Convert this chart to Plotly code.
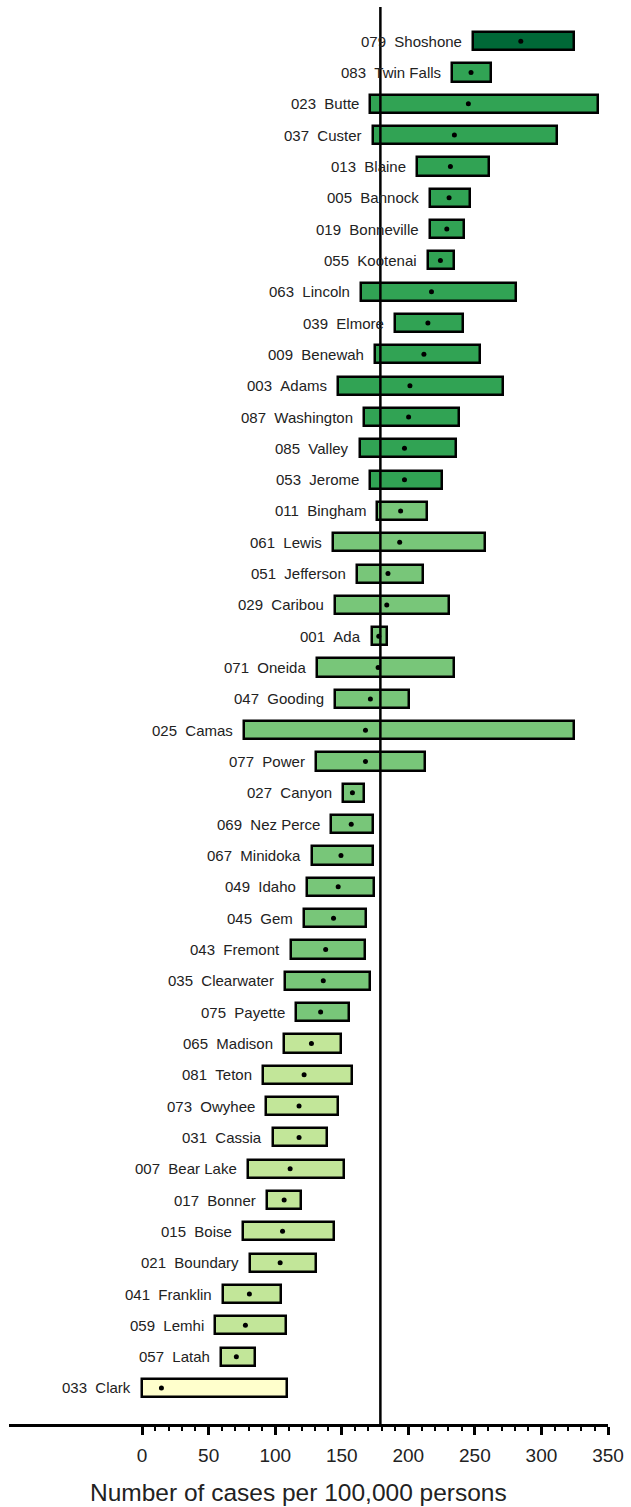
import plotly.graph_objects as go

# county data: FIPS code, name, rate per 100,000, 95% CI lower/upper, colour class
codes = ["079", "083", "023", "037", "013", "005", "019", "055", "063", "039", "009",
         "003", "087", "085", "053", "011", "061", "051", "029", "001", "071", "047",
         "025", "077", "027", "069", "067", "049", "045", "043", "035", "075", "065",
         "081", "073", "031", "007", "017", "015", "021", "041", "059", "057", "033"]
names = ["Shoshone", "Twin Falls", "Butte", "Custer", "Blaine", "Bannock", "Bonneville",
         "Kootenai", "Lincoln", "Elmore", "Benewah", "Adams", "Washington", "Valley",
         "Jerome", "Bingham", "Lewis", "Jefferson", "Caribou", "Ada", "Oneida", "Gooding",
         "Camas", "Power", "Canyon", "Nez Perce", "Minidoka", "Idaho", "Gem", "Fremont",
         "Clearwater", "Payette", "Madison", "Teton", "Owyhee", "Cassia", "Bear Lake",
         "Bonner", "Boise", "Boundary", "Franklin", "Lemhi", "Latah", "Clark"]
rate = [284.5, 247.1, 245.1, 234.6, 231.6, 230.6, 228.9, 224.1, 217.4, 214.7, 211.7,
        201.2, 200.2, 197.1, 197.1, 194.2, 193.5, 184.7, 183.8, 177.8, 177.3, 171.5,
        167.8, 167.8, 158.0, 157.1, 149.4, 147.3, 143.8, 137.9, 136.1, 134.1, 127.2,
        121.7, 117.9, 117.9, 111.2, 106.7, 105.5, 103.7, 80.6, 77.6, 70.8, 14.5]
lower = [248.3, 232.6, 171.5, 173.5, 206.4, 216.4, 215.9, 214.4, 164.3, 189.7, 175.0,
         147.3, 166.8, 163.6, 171.5, 176.8, 143.1, 161.6, 144.6, 173.0, 131.1, 145.1,
         76.5, 130.7, 150.6, 142.1, 127.4, 124.2, 121.7, 111.9, 107.2, 115.9, 106.7,
         91.0, 93.0, 98.7, 79.8, 94.0, 76.1, 81.3, 60.8, 54.6, 59.1, 0.0]
upper = [324.4, 262.0, 342.6, 311.9, 260.8, 246.1, 241.6, 234.1, 281.2, 241.3, 254.1,
         270.8, 238.1, 235.8, 225.1, 213.7, 257.8, 211.2, 230.9, 184.0, 234.6, 200.4,
         324.8, 212.4, 166.8, 173.3, 173.3, 174.3, 168.5, 167.8, 171.5, 155.1, 149.4,
         157.8, 147.3, 138.6, 151.6, 119.2, 144.1, 130.4, 104.0, 107.9, 84.5, 108.9]
group = [0] + [1] * 14 + [2] * 17 + [3] * 11 + [4]
palette = ["#006837", "#31a354", "#78c679", "#c2e699", "#ffffcc"]

state_rate = 179
tick_vals = [0, 50, 100, 150, 200, 250, 300, 350]
minor_vals = list(range(0, 351, 10))
x_title = "Number of cases per 100,000 persons"

font = "Arial, Liberation Sans, sans-serif"
idx = list(range(len(codes)))

fig = go.Figure()

# CI bars
fig.add_trace(go.Bar(
    y=idx, x=[u - l for u, l in zip(upper, lower)], base=lower,
    orientation="h", width=0.58,
    marker=dict(color=[palette[g] for g in group], line=dict(color="black", width=2.5)),
    showlegend=False, hoverinfo="skip",
))

# point estimates
fig.add_trace(go.Scatter(
    y=idx, x=rate, mode="markers",
    marker=dict(color="black", size=5),
    showlegend=False,
))

# county labels left of each bar
for i, (c, n, l) in enumerate(zip(codes, names, lower)):
    fig.add_annotation(x=l, y=i, text=f"{c}&nbsp;&nbsp;{n}", showarrow=False,
                       xanchor="right", yanchor="middle", xshift=-9,
                       font=dict(family=font, size=15, color="#222"))

# state rate reference line
fig.add_shape(type="line", x0=state_rate, x1=state_rate, y0=0, y1=1, yref="paper",
              line=dict(color="black", width=2.5), layer="above")

# axis title (placed by hand, slightly left of the plot centre like the original)
fig.add_annotation(x=0.484, y=0, xref="paper", yref="paper", text=x_title,
                   showarrow=False, xanchor="center", yanchor="middle", yshift=-68,
                   font=dict(family=font, size=24.5, color="#222"))

fig.update_xaxes(
    range=[-100, 350], showgrid=False, zeroline=False,
    showline=True, linecolor="black", linewidth=2.5,
    tickmode="array", tickvals=tick_vals, ticks="outside", ticklen=8, tickwidth=2.5,
    tickcolor="black", ticklabelstandoff=4,
    minor=dict(tickvals=minor_vals, ticks="outside", ticklen=4, tickwidth=2, tickcolor="black"),
    tickfont=dict(family=font, size=19, color="#222"),
)
fig.update_yaxes(range=[44.15, -1.09], visible=False)

fig.update_layout(
    width=631, height=1507,
    margin=dict(l=9, r=20, t=7, b=83),
    plot_bgcolor="white", paper_bgcolor="white",
    bargap=0,
)

fig.write_html("out.html", config={"displayModeBar": False},
               post_script="document.body.style.margin='0';")
